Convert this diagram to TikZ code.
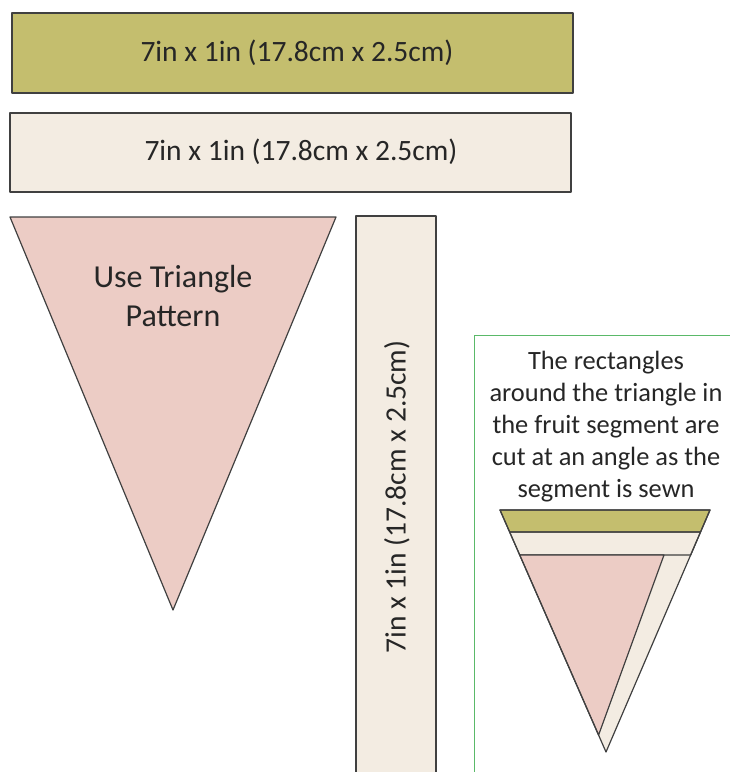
\documentclass[tikz,border=0pt]{standalone}
\usepackage{fontspec}
\setmainfont{Carlito}
\usetikzlibrary{calc,positioning}
\definecolor{stripolive}{RGB}{196,190,110}
\definecolor{stripcream}{RGB}{243,236,226}
\definecolor{tripink}{RGB}{236,204,197}
\definecolor{edgegray}{RGB}{64,64,64}
\definecolor{notegreen}{RGB}{90,185,105}
\tikzset{
  piece/.style={draw=edgegray,line width=1.2pt,line join=round},
  lbl/.style={font=\fontsize{29.5}{34}\selectfont,text=black!85}
}
\begin{document}
\begin{tikzpicture}[x=1pt,y=-1pt]
  \useasboundingbox (0,0) rectangle (730,772);
  % the two flat strips
  \draw[piece,fill=stripolive] (12,13) rectangle (573,93);
  \node[lbl] (olivelbl) at (297,53) {7in x 1in (17.8cm x 2.5cm)};
  \draw[piece,fill=stripcream] (10,113) rectangle (571,192);
  \node[lbl] (creamlbl) at (301,152) {7in x 1in (17.8cm x 2.5cm)};
  % pattern triangle
  \draw[piece,fill=tripink] (10,217) -- (336,217) -- (173,610) -- cycle;
  \node[lbl,font=\fontsize{32}{39}\selectfont,align=center] (trilbl) at (173,296) {Use Triangle\\Pattern};
  % upright strip, runs off the bottom
  \fill[stripcream] (356,216) rectangle (436,772);
  \draw[piece] (356,772) -- (356,216) -- (436,216) -- (436,772);
  \node[lbl,rotate=90] (uprightlbl) at (397,497) {7in x 1in (17.8cm x 2.5cm)};
  % note panel
  \draw[notegreen,line width=1pt] (474,772) -- (474,335) -- (730,335);
  \node[lbl,align=center,font=\fontsize{26.4}{32}\selectfont] (notelbl) at (606,427)
    {The rectangles\\around the triangle in\\the fruit segment are\\cut at an angle as the\\segment is sewn};
  % sewn segment
  \coordinate (tl) at (500,510);
  \coordinate (tr) at (710,510);
  \coordinate (apex) at (606,752);
  \coordinate (l1) at ($(tl)!0.091!(apex)$);
  \coordinate (r1) at ($(tr)!0.091!(apex)$);
  \coordinate (l2) at ($(tl)!0.186!(apex)$);
  \coordinate (r2) at ($(tr)!0.186!(apex)$);
  \coordinate (p2) at ($(l2)!0.844!(r2)$);
  \coordinate (l3) at ($(tl)!0.93!(apex)$);
  \fill[stripcream] (tl) -- (tr) -- (apex) -- cycle;
  \draw[piece,fill=stripolive] (tl) -- (tr) -- (r1) -- (l1) -- cycle;
  \draw[piece] (l1) -- (r1) -- (r2) -- (l2) -- cycle;
  \draw[piece,fill=tripink] (l2) -- (p2) -- (l3) -- cycle;
  \draw[piece] (tl) -- (tr) -- (apex) -- cycle;
\end{tikzpicture}
\end{document}
